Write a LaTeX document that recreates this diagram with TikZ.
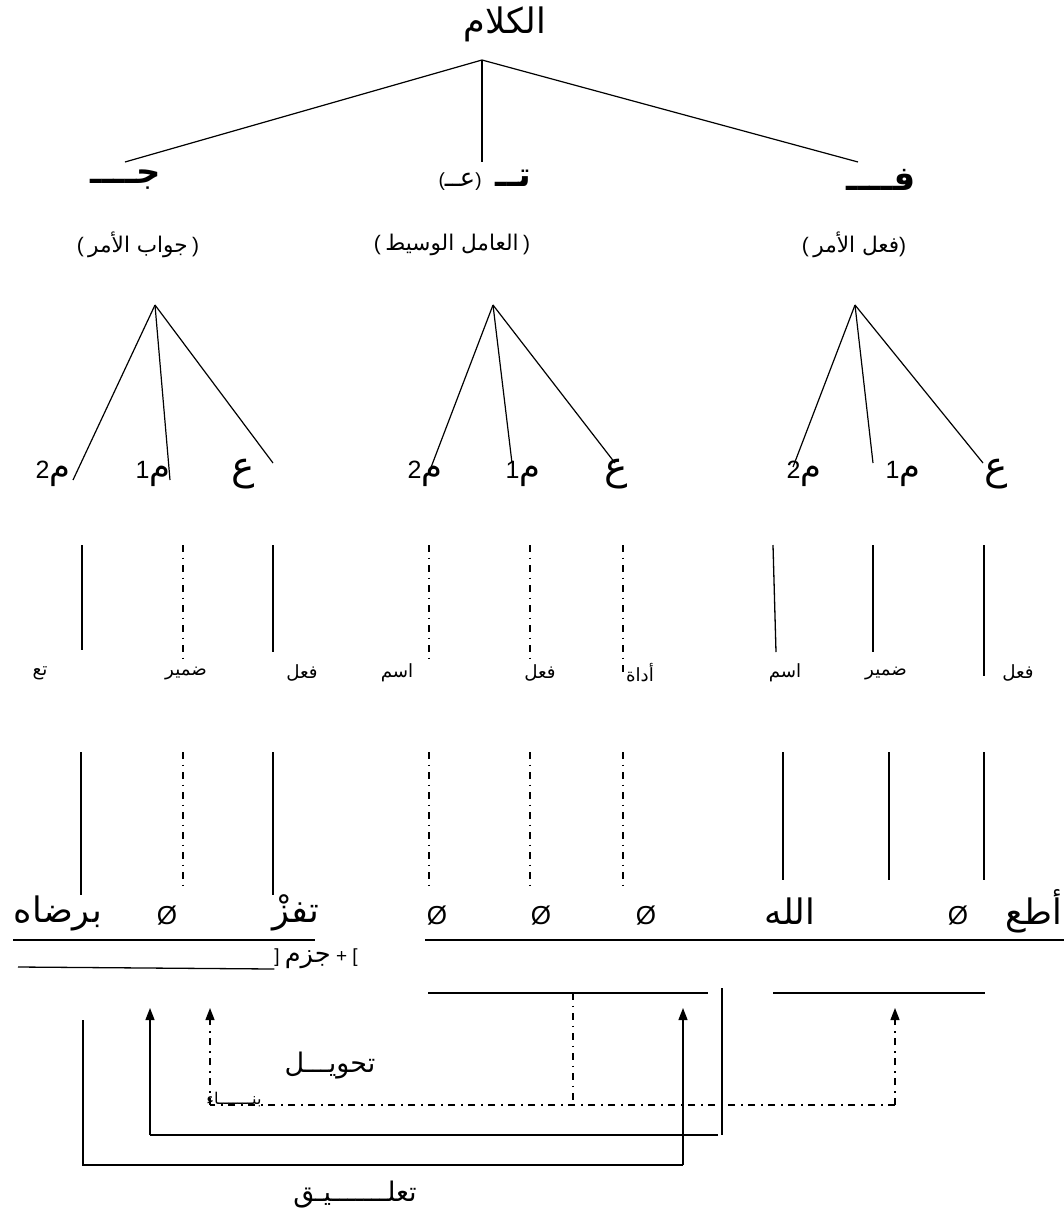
\documentclass[tikz,border=0pt]{standalone}
\usepackage{fontspec}
\setmainfont{Liberation Sans}
\newfontfamily\ar[Script=Arabic,Scale=1.35]{DejaVu Sans}
\TeXXeTstate=1
\usetikzlibrary{arrows.meta}
\newcommand\AR[1]{{\ar\beginR #1\endR}}
\newcommand\fsz[1]{\fontsize{#1}{#1}\selectfont}
\newcommand\pp[1]{{\fsz{21}#1}}
\begin{document}
\begin{tikzpicture}[x=1pt,y=-1pt,
  every node/.style={inner sep=0pt,outer sep=0pt},
  ln/.style={line width=1.2pt},
  sol/.style={line width=1.3pt},
  dd/.style={line width=1.3pt,dash pattern=on 7pt off 5.5pt on 1.5pt off 6pt},
  ul/.style={line width=2.6pt},
  arr/.style={-{Triangle[length=12pt,width=9pt]}},
  ttl/.style={font=\fsz{26}},
  hdr/.style={font=\fsz{25}\bfseries},
  sub/.style={font=\fsz{16}},
  mlab/.style={font=\fsz{25}},
  elab/.style={font=\fsz{29}},
  small/.style={font=\fsz{13.5}},
  word/.style={font=\fsz{26}},
  mid/.style={font=\fsz{20}}]
\useasboundingbox (0,0) rectangle (1064,1232);
% root
\node[ttl] (root) at (505,24) {\AR{الكلام}};
\coordinate (r) at (482,60);
\coordinate (hj) at (125,162);
\coordinate (ht) at (482,162);
\coordinate (hf) at (858,162);
\draw[ln] (r)--(hj); \draw[ln] (r)--(ht); \draw[ln] (r)--(hf);
% headers
\node[hdr] (J) at (126,180) {\AR{جــــ}};
\node (T) at (485,180) {{\fsz{19}(\AR{عــ})}\hspace{14pt}{\fsz{25}\bfseries\AR{تــ}}};
\node[hdr] (F) at (881,180) {\AR{فــــ}};
\node[sub] (Jd) at (138,245) {\pp{(} \AR{جواب الأمر} \pp{)}};
\node[sub] (Td) at (452,245) {\pp{(} \AR{العامل الوسيط} \pp{)}};
\node[sub] (Fd) at (854,245) {\pp{(} \AR{فعل الأمر}\pp{)}};
% sub-trees
\coordinate (aJ) at (155,305);
\coordinate (aT) at (493,305);
\coordinate (aF) at (855,305);
\node[mlab] (Jm2) at (53,474) {2\AR{م}};
\node[mlab] (Jm1) at (153,474) {1\AR{م}};
\node[elab] (Je) at (243,474) {\AR{ع}};
\node[mlab] (Tm2) at (425,474) {2\AR{م}};
\node[mlab] (Tm1) at (523,474) {1\AR{م}};
\node[elab] (Te) at (616,474) {\AR{ع}};
\node[mlab] (Fm2) at (804,474) {2\AR{م}};
\node[mlab] (Fm1) at (903,474) {1\AR{م}};
\node[elab] (Fe) at (996,474) {\AR{ع}};
\coordinate (eJ2) at (73,480); \coordinate (eJ1) at (170,480); \coordinate (eJ0) at (273,463);
\coordinate (eT2) at (430,470); \coordinate (eT1) at (512,463); \coordinate (eT0) at (615,463);
\coordinate (eF2) at (793,467); \coordinate (eF1) at (873,463); \coordinate (eF0) at (983,463);
\foreach \g in {J,T,F}{
  \draw[ln] (a\g)--(e\g2); \draw[ln] (a\g)--(e\g1); \draw[ln] (a\g)--(e\g0);}
% row 1 vertical lines
\foreach \n/\xa/\xb/\yb/\st in {a/82/82/650/sol, b/183/183/662/dd, c/273/273/652/sol,
   d/429/429/662/dd, e/530/530/662/dd, f/623/623/672/dd,
   g/773/776/652/sol, h/873/873/652/sol, i/984/984/676/sol}{
  \coordinate (p\n) at (\xa,545); \coordinate (q\n) at (\xb,\yb);
  \draw[\st] (p\n)--(q\n);}
% row 1 labels
\node[small] (l1) at (40,673) {\AR{تع}};
\node[small] (l2) at (186,673) {\AR{ضمير}};
\node[small] (l3) at (302,673) {\AR{فعل}};
\node[small] (l4) at (397,673) {\AR{اسم}};
\node[small] (l5) at (540,673) {\AR{فعل}};
\node[small] (l6) at (640,673) {\AR{أداة}};
\node[small] (l7) at (785,673) {\AR{اسم}};
\node[small] (l8) at (886,673) {\AR{ضمير}};
\node[small] (l9) at (1018,673) {\AR{فعل}};
% row 2 vertical lines
\foreach \n/\x/\yb/\st in {a/81/895/sol, b/183/890/dd, c/273/895/sol,
   d/429/890/dd, e/530/890/dd, f/623/890/dd,
   g/783/880/sol, h/889/880/sol, i/984/880/sol}{
  \coordinate (s\n) at (\x,752); \coordinate (t\n) at (\x,\yb);
  \draw[\st] (s\n)--(t\n);}
% word row
\node[word] (w1) at (58,913) {\AR{برضاه}};
\node[word] (w2) at (167,916) {Ø};
\node[word] (w3) at (296,913) {\AR{تفزْ}};
\node[word] (w4) at (437,916) {Ø};
\node[word] (w5) at (541,916) {Ø};
\node[word] (w6) at (646,916) {Ø};
\node[word] (w7) at (790,911) {\AR{الله}};
\node[word] (w8) at (958,916) {Ø};
\node[word] (w9) at (1034,911) {\AR{أطع}};
\coordinate (u1) at (13,940); \coordinate (u2) at (315,940);
\coordinate (u3) at (425,940); \coordinate (u4) at (1064,940);
\draw[ul] (u1)--(u2); \draw[ul] (u3)--(u4);
% bottom part
\node[font=\fsz{19}] (jz) at (316,959) {] \AR{جزم} + [};
\coordinate (k1) at (18,967);
\draw[sol] (k1)--(jz.south west);
\coordinate (m1) at (428,993); \coordinate (m2) at (708,993);
\coordinate (m3) at (773,993); \coordinate (m4) at (985,993);
\draw[sol] (m1)--(m2); \draw[sol] (m3)--(m4);
\coordinate (v1) at (722,988); \coordinate (v2) at (722,1135);
\draw[sol] (v1)--(v2);
% taaliq path
\coordinate (b1) at (83,1020); \coordinate (b2) at (83,1165);
\coordinate (b3) at (683,1165); \coordinate (b4) at (683,1008);
\draw[sol] (b1)--(b2)--(b3);
\draw[sol,arr] (b3)--(b4);
% solid arrow x=150
\coordinate (c1) at (718,1135); \coordinate (c2) at (150,1135); \coordinate (c3) at (150,1008);
\draw[sol] (c1)--(c2);
\draw[sol,arr] (c2)--(c3);
% dashed bina path
\coordinate (d1) at (895,1105); \coordinate (d2) at (895,1008);
\coordinate (d3) at (210,1105); \coordinate (d4) at (210,1008);
\coordinate (d5) at (573,993); \coordinate (d6) at (573,1105);
\draw[dd] (d1)--(d3);
\draw[dd,arr] (d1)--(d2);
\draw[dd,arr] (d3)--(d4);
\draw[dd] (d5)--(d6);
\node[mid] (tahwil) at (330,1066) {\AR{تحويـــل}};
\node[font=\fsz{12}] (bina) at (234,1100) {\AR{بنـــــــاء}};
\node[mid] (taaliq) at (355,1195) {\AR{تعلـــــــيـق}};
\end{tikzpicture}
\end{document}
